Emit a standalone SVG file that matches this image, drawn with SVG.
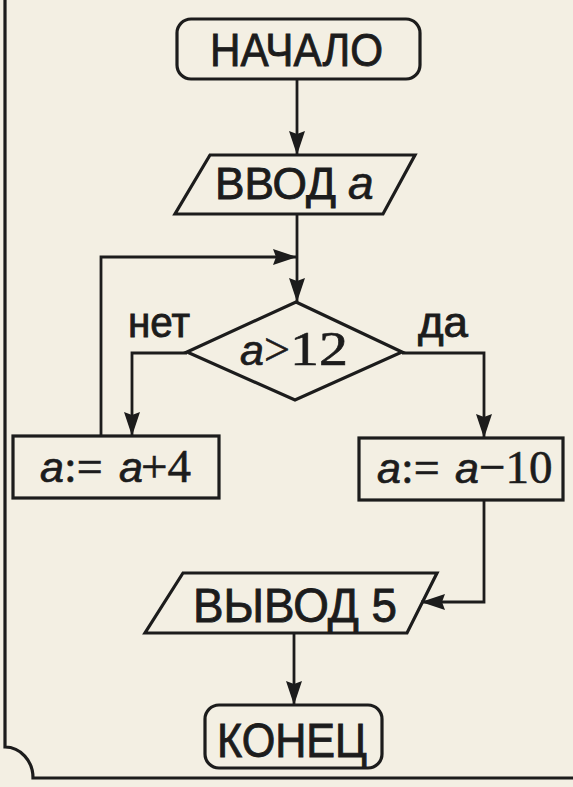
<svg xmlns="http://www.w3.org/2000/svg" width="573" height="787" viewBox="0 0 573 787">
  <style>
    .shape { fill: none; stroke: #1c1c1c; stroke-width: 3.2; stroke-linejoin: miter; }
    .conn { fill: none; stroke: #1c1c1c; stroke-width: 2.8; }
    .sans { font-family: "Liberation Sans", Arial, sans-serif; fill: #1c1c1c; stroke: #1c1c1c; stroke-width: 0.9; }
    .serif { font-family: "Liberation Serif", "Times New Roman", serif; fill: #1c1c1c; stroke: #1c1c1c; stroke-width: 0.6; }
    .ital { font-family: "Liberation Sans", Arial, sans-serif; font-style: italic; fill: #1c1c1c; stroke: #1c1c1c; stroke-width: 0.7; }
  </style>
  <defs>
    <marker id="arrow" markerUnits="userSpaceOnUse" markerWidth="24" markerHeight="16" refX="24" refY="8" orient="auto">
      <path d="M0,0 L24,8 L0,16 L3,8 Z" fill="#1c1c1c"/>
    </marker>
  </defs>
  <rect x="0" y="0" width="573" height="787" fill="#f3efe3"/>
  <path class="shape" d="M5,0 V747 A28 31 0 0 1 33 778 H573"/>

  <g id="connectors">
    <path class="conn" d="M297,79 V155" marker-end="url(#arrow)"/>
    <path class="conn" d="M297,214 V302" marker-end="url(#arrow)"/>
    <path class="conn" d="M101,436 V257 H297" marker-end="url(#arrow)"/>
    <path class="conn" d="M187,353 H132 V436" marker-end="url(#arrow)"/>
    <path class="conn" d="M402,353 H484 V438" marker-end="url(#arrow)"/>
    <path class="conn" d="M484,500 V602 H421" marker-end="url(#arrow)"/>
    <path class="conn" d="M294,633 V705" marker-end="url(#arrow)"/>
  </g>

  <g id="start">
    <rect class="shape" x="177" y="19" width="243" height="60" rx="14" ry="14"/>
    <text class="sans" x="210" y="66" font-size="47" textLength="173" lengthAdjust="spacingAndGlyphs">НАЧАЛО</text>
  </g>

  <g id="input">
    <polygon class="shape" points="210,155 415,155 383,214 175,214"/>
    <text class="sans" x="215" y="199" font-size="45" textLength="121" lengthAdjust="spacingAndGlyphs">ВВОД</text>
    <text class="ital" x="348" y="199" font-size="46">a</text>
  </g>

  <g id="decision">
    <polygon class="shape" points="296,302 402,352 295,400 187,352"/>
    <text class="ital" x="240" y="365" font-size="43">a</text>
    <text class="serif" x="264" y="365" font-size="46">&gt;</text>
    <text class="serif" x="290" y="365" font-size="48" textLength="58" lengthAdjust="spacingAndGlyphs">12</text>
  </g>

  <g id="label-no">
    <text class="sans" x="128" y="337" font-size="42" textLength="62" lengthAdjust="spacingAndGlyphs">нет</text>
  </g>
  <g id="label-yes">
    <text class="sans" x="418" y="337" font-size="42" textLength="50" lengthAdjust="spacingAndGlyphs">да</text>
  </g>

  <g id="inc">
    <rect class="shape" x="13" y="436" width="206" height="62"/>
    <text class="ital" x="40" y="482" font-size="43">a</text>
    <text class="serif" x="64" y="482" font-size="46">:=</text>
    <text class="ital" x="119" y="482" font-size="43">a</text>
    <text class="serif" x="141" y="482" font-size="47">+4</text>
  </g>

  <g id="dec">
    <rect class="shape" x="359" y="438" width="204" height="62"/>
    <text class="ital" x="377" y="483" font-size="43">a</text>
    <text class="serif" x="401" y="483" font-size="46">:=</text>
    <text class="ital" x="455" y="483" font-size="43">a</text>
    <text class="serif" x="479" y="483" font-size="47">−10</text>
  </g>

  <g id="output">
    <polygon class="shape" points="183,573 437,573 407,633 145,633"/>
    <text class="sans" x="193" y="622" font-size="48" textLength="204" lengthAdjust="spacingAndGlyphs">ВЫВОД 5</text>
  </g>

  <g id="end">
    <rect class="shape" x="205" y="705" width="177" height="63" rx="14" ry="14"/>
    <text class="sans" x="217" y="757" font-size="48" textLength="150" lengthAdjust="spacingAndGlyphs">КОНЕЦ</text>
  </g>
</svg>
